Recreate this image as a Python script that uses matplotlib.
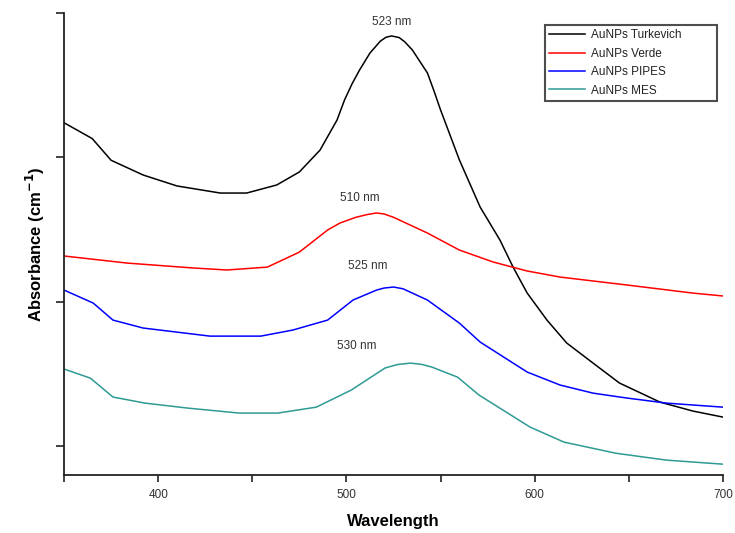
import matplotlib
matplotlib.use("Agg")
import matplotlib.pyplot as plt
from matplotlib.ticker import MultipleLocator, FuncFormatter

plt.rcParams['font.family'] = ['Liberation Sans', 'DejaVu Sans']

# ---- data ----
turk_wl = [350, 365, 375, 392, 410, 433, 447, 463, 475, 486, 495, 499, 503, 507, 512.5, 518, 521,
           524, 528, 531, 535, 543, 546.5, 550, 560, 571, 581.5, 588.5, 596, 606.5, 617, 631,
           645, 666.5, 684, 700]
turk_abs = [2.24, 2.13, 1.98, 1.878, 1.802, 1.753, 1.753, 1.809, 1.899, 2.051, 2.259, 2.398, 2.51,
            2.606, 2.723, 2.805, 2.832, 2.841, 2.83, 2.80, 2.744, 2.585, 2.46, 2.328, 1.982,
            1.656, 1.428, 1.240, 1.060, 0.873, 0.714, 0.575, 0.437, 0.305, 0.243, 0.201]

verde_wl = [350, 383.5, 418.5, 436.5, 458, 475, 490, 496.5, 505, 511, 516, 520, 525, 543, 560,
            578, 596, 613.5, 649, 684, 700]
verde_abs = [1.317, 1.268, 1.234, 1.220, 1.240, 1.344, 1.497, 1.545, 1.585, 1.604, 1.615, 1.608,
             1.585, 1.476, 1.358, 1.275, 1.213, 1.171, 1.116, 1.060, 1.040]

pipes_wl = [350, 365.5, 376, 392, 427.5, 454.5, 471.5, 490, 503.5, 516, 520, 525, 530, 535, 543,
            560, 571, 596, 613.5, 631, 649, 670, 700]
pipes_abs = [1.081, 0.991, 0.873, 0.818, 0.762, 0.762, 0.804, 0.873, 1.012, 1.081, 1.095, 1.102,
             1.09, 1.06, 1.012, 0.852, 0.721, 0.513, 0.423, 0.367, 0.333, 0.298, 0.270]

mes_wl = [350, 364, 376, 393, 416, 443, 463.5, 484, 502.5, 520.5, 527, 534, 540, 545.5, 559,
          570.5, 597.5, 615.5, 643, 670, 700]
mes_abs = [0.534, 0.471, 0.340, 0.298, 0.263, 0.229, 0.229, 0.270, 0.388, 0.541, 0.565, 0.575,
           0.566, 0.547, 0.478, 0.353, 0.132, 0.028, -0.049, -0.097, -0.125]

series_names = ["AuNPs Turkevich", "AuNPs Verde", "AuNPs PIPES", "AuNPs MES"]
series_colors = ["#000000", "#ff0000", "#0000ff", "#2e9a94"]

peak_labels = ["523 nm", "510 nm", "525 nm", "530 nm"]
peak_label_x = [524.2, 507.0, 511.5, 505.6]
peak_label_y = [2.938, 1.719, 1.247, 0.693]

x_tick_labels = [400, 500, 600, 700]

# ---- figure ----
fig = plt.figure(figsize=(7.35, 5.33), dpi=100)
ax = fig.add_axes([0.0871, 0.1088, 0.8966, 0.8668])

data = [(turk_wl, turk_abs), (verde_wl, verde_abs), (pipes_wl, pipes_abs), (mes_wl, mes_abs)]
for (wl, ab), name, col in zip(data, series_names, series_colors):
    ax.plot(wl, ab, color=col, lw=1.1, label=name)

for txt, lx, ly in zip(peak_labels, peak_label_x, peak_label_y):
    ax.text(lx, ly, txt, ha='center', va='center', fontsize=8.5, color='#333333')

ax.set_xlim(350, 700)
ax.set_ylim(-0.2, 3.0)
ax.xaxis.set_major_locator(MultipleLocator(50))
ax.xaxis.set_major_formatter(FuncFormatter(lambda v, p: str(int(round(v))) if int(round(v)) in x_tick_labels else ""))
ax.set_yticks([0, 1, 2, 3])
ax.set_yticklabels([])

for side in ['top', 'right']:
    ax.spines[side].set_visible(False)
for side in ['left', 'bottom']:
    ax.spines[side].set_linewidth(1.3)
    ax.spines[side].set_color('#222222')

ax.tick_params(axis='x', direction='out', length=5, width=1.2, labelsize=8.5, pad=5,
               colors='#222222', labelcolor='#333333')
ax.tick_params(axis='y', direction='out', length=6, width=1.2, colors='#222222')

ax.set_xlabel("Wavelength", fontsize=12, fontweight='bold', va='center')
ax.xaxis.set_label_coords(0.5, -0.0996)
ax.set_ylabel("Absorbance (cm$^{\\mathbf{-1}}$)", fontsize=12, fontweight='bold', va='center')
ax.yaxis.set_label_coords(-0.044, 0.5)

leg = ax.legend(loc='upper left', bbox_to_anchor=(0.730, 0.80, 0.261, 0.174), mode='expand',
                fontsize=8.5, frameon=True, fancybox=False, handlelength=3.0,
                handletextpad=0.5, borderpad=0.35, labelspacing=0.55, borderaxespad=0)
leg.get_frame().set_edgecolor('#222222')
leg.get_frame().set_linewidth(1.5)
for t in leg.get_texts():
    t.set_color('#222222')

fig.savefig("out.png", dpi=100)
